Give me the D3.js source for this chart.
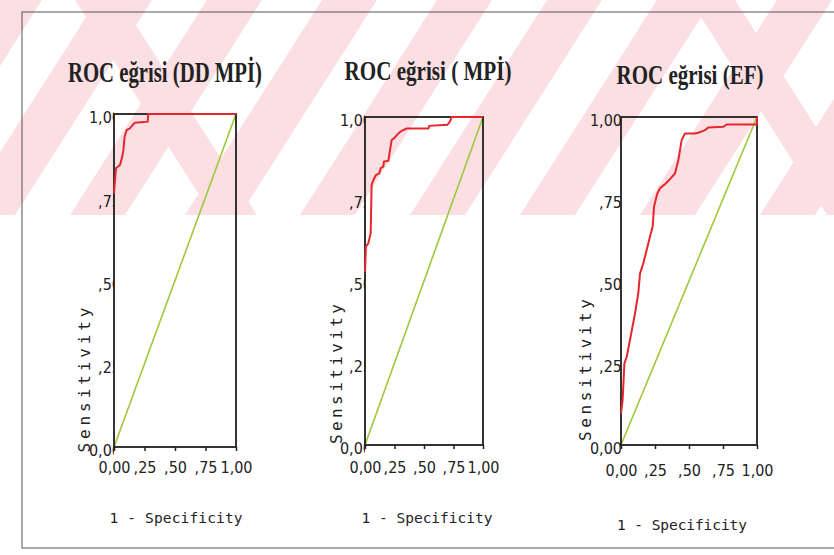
<!DOCTYPE html>
<html>
<head>
<meta charset="utf-8">
<script src="https://cdn.jsdelivr.net/npm/d3@7"></script>
<style>
body { margin: 0; background: #fff; }
.tick text { font-family: "Liberation Sans Narrow", "Arial Narrow", "DejaVu Sans Condensed", "Liberation Sans", sans-serif; }
</style>
</head>
<body>
<svg width="834" height="555"></svg>
<script>
var titles = ["ROC eğrisi (DD MPİ)", "ROC eğrisi ( MPİ)", "ROC eğrisi (EF)"];
var xTickValues = [0, 0.25, 0.5, 0.75, 1];
var xTickLabels = ["0,00", ",25", ",50", ",75", "1,00"];
var yTickValues = [0, 0.25, 0.5, 0.75, 1];
var yTickLabels = ["0,00", ",25", ",50", ",75", "1,00"];
var xLabel = "1 - Specificity";
var yLabel = "Sensitivity";

// 1 - specificity / sensitivity
var ddmpiFpr  = [0, 0.016, 0.049, 0.068, 0.077, 0.087, 0.104, 0.131, 0.153, 0.172, 0.276, 0.281, 1];
var ddmpiSens = [0.762, 0.837, 0.847, 0.872, 0.892, 0.932, 0.952, 0.957, 0.967, 0.974, 0.977, 1, 1];

var mpiFpr  = [0, 0.008, 0.028, 0.048, 0.056, 0.071, 0.093, 0.121, 0.133, 0.155, 0.161, 0.198, 0.212, 0.226, 0.246, 0.282, 0.311, 0.353, 0.537, 0.545, 0.698, 0.720, 0.735, 1];
var mpiSens = [0.528, 0.605, 0.615, 0.645, 0.793, 0.808, 0.823, 0.828, 0.844, 0.849, 0.864, 0.867, 0.899, 0.930, 0.935, 0.950, 0.958, 0.965, 0.965, 0.973, 0.976, 0.986, 1, 1];

var efFpr  = [0, 0.012, 0.025, 0.042, 0.066, 0.103, 0.127, 0.140, 0.164, 0.189, 0.213, 0.233, 0.243, 0.267, 0.287, 0.331, 0.365, 0.397, 0.422, 0.446, 0.471, 0.544, 0.569, 0.618, 0.642, 0.752, 0.777, 0.998, 1];
var efSens = [0.097, 0.137, 0.249, 0.269, 0.320, 0.401, 0.462, 0.523, 0.554, 0.595, 0.635, 0.666, 0.727, 0.767, 0.783, 0.798, 0.813, 0.828, 0.869, 0.930, 0.950, 0.950, 0.952, 0.960, 0.968, 0.970, 0.977, 0.977, 1];

var curves = [[ddmpiFpr, ddmpiSens], [mpiFpr, mpiSens], [efFpr, efSens]];

// where each little chart sits on the page
var layout = [
    {left: 114, right: 236, top: 114, bottom: 447, titleX: 165, titleY: 82, titleSize: 30, titleW: 194,
     yLabX: 90, yLabY: 380, yLabW: 145, xLabX: 176, xLabY: 523, xLabW: 133, yOver: 7, xTickY: 473},
    {left: 365, right: 483, top: 117, bottom: 445, titleX: 428, titleY: 80, titleSize: 28, titleW: 167,
     yLabX: 342, yLabY: 374, yLabW: 140, xLabX: 427, xLabY: 523, xLabW: 131, yOver: 7, xTickY: 473},
    {left: 621, right: 757, top: 117, bottom: 445, titleX: 690, titleY: 84, titleSize: 28, titleW: 147,
     yLabX: 591, yLabY: 370, yLabW: 142, xLabX: 682, xLabY: 530, xLabW: 130, yOver: 1, xTickY: 476}
];

var svg = d3.select("svg");

// faint pink watermark across the top of the scan
var wm = svg.append("g");
svg.append("clipPath").attr("id", "wmclip")
    .append("rect").attr("x", 0).attr("y", 0).attr("width", 834).attr("height", 215);
wm.attr("clip-path", "url(#wmclip)");
var slashStarts = [-150, -40, 70, 185, 300, 410, 520, 640, 760];
wm.selectAll(".slash")
    .data(slashStarts)
    .enter()
    .append("polygon")
    .attr("points", function(d) {
        return [[d, 215], [d + 55, 215], [d + 55 + 137, 0], [d + 137, 0]].join(" ");
    })
    .attr("fill", "#fbdfe3");
var backStarts = [75, 690];
wm.selectAll(".back")
    .data(backStarts)
    .enter()
    .append("polygon")
    .attr("points", function(d) {
        return [[d, 0], [d + 45, 0], [d + 45 + 137, 215], [d + 137, 215]].join(" ");
    })
    .attr("fill", "#fbdfe3");

// page frame
svg.append("rect")
    .attr("x", 22).attr("y", 12)
    .attr("width", 830).attr("height", 536)
    .attr("fill", "none")
    .attr("stroke", "#555")
    .attr("stroke-width", 1);

layout.forEach(function(p, k) {
    var x = d3.scaleLinear().domain([0, 1]).range([p.left, p.right]);
    var y = d3.scaleLinear().domain([0, 1]).range([p.bottom, p.top]);
    var g = svg.append("g");

    g.append("text")
        .attr("x", p.titleX)
        .attr("y", p.titleY)
        .attr("text-anchor", "middle")
        .attr("font-family", "Liberation Serif, Times New Roman, serif")
        .attr("font-weight", "bold")
        .attr("font-size", p.titleSize)
        .attr("textLength", p.titleW)
        .attr("lengthAdjust", "spacingAndGlyphs")
        .attr("fill", "#222")
        .text(titles[k]);

    // y tick labels, cut off by the axis line like in the scan
    svg.append("clipPath").attr("id", "yclip" + k)
        .append("rect").attr("x", -p.left).attr("y", 0).attr("width", p.left).attr("height", 555);
    var yAx = g.append("g")
        .attr("transform", "translate(" + p.left + ",0)")
        .attr("clip-path", "url(#yclip" + k + ")")
        .call(d3.axisLeft(y).tickValues(yTickValues)
            .tickFormat(function(d, i) { return yTickLabels[i]; })
            .tickSize(0).tickPadding(-p.yOver));
    yAx.select(".domain").remove();
    yAx.selectAll("text").attr("font-size", 16).attr("fill", "#222").attr("dy", "0.55em");

    var xAx = g.append("g")
        .attr("transform", "translate(0," + p.bottom + ")")
        .call(d3.axisBottom(x).tickValues(xTickValues)
            .tickFormat(function(d, i) { return xTickLabels[i]; })
            .tickSize(4).tickPadding(p.xTickY - p.bottom - 4 - 12));
    xAx.select(".domain").remove();
    xAx.selectAll("line").attr("stroke", "#222").attr("stroke-width", 1.5);
    xAx.selectAll("text").attr("font-size", 16).attr("fill", "#222").attr("dy", "0.75em");

    g.append("text")
        .attr("transform", "translate(" + p.yLabX + "," + p.yLabY + ") rotate(-90)")
        .attr("text-anchor", "middle")
        .attr("font-family", "DejaVu Sans Mono, monospace")
        .attr("font-size", 16)
        .attr("textLength", p.yLabW)
        .attr("lengthAdjust", "spacing")
        .attr("fill", "#222")
        .text(yLabel);

    g.append("text")
        .attr("x", p.xLabX)
        .attr("y", p.xLabY)
        .attr("text-anchor", "middle")
        .attr("font-family", "DejaVu Sans Mono, monospace")
        .attr("font-size", 14.5)
        .attr("textLength", p.xLabW)
        .attr("lengthAdjust", "spacing")
        .attr("fill", "#222")
        .text(xLabel);

    // chance diagonal
    g.append("path")
        .datum([[0, 0], [1, 1]])
        .attr("d", d3.line().x(function(d) { return x(d[0]); }).y(function(d) { return y(d[1]); }))
        .attr("stroke", "#9cc93a")
        .attr("stroke-width", 1.6)
        .attr("fill", "none");

    g.append("rect")
        .attr("x", x(0)).attr("y", y(1))
        .attr("width", x(1) - x(0)).attr("height", y(0) - y(1))
        .attr("fill", "none")
        .attr("stroke", "#1e1e1e")
        .attr("stroke-width", 1.8);

    g.append("path")
        .datum(d3.zip(curves[k][0], curves[k][1]))
        .attr("d", d3.line().x(function(d) { return x(d[0]); }).y(function(d) { return y(d[1]); }))
        .attr("stroke", "#e5262c")
        .attr("stroke-width", 2)
        .attr("fill", "none");
});
</script>
</body>
</html>
